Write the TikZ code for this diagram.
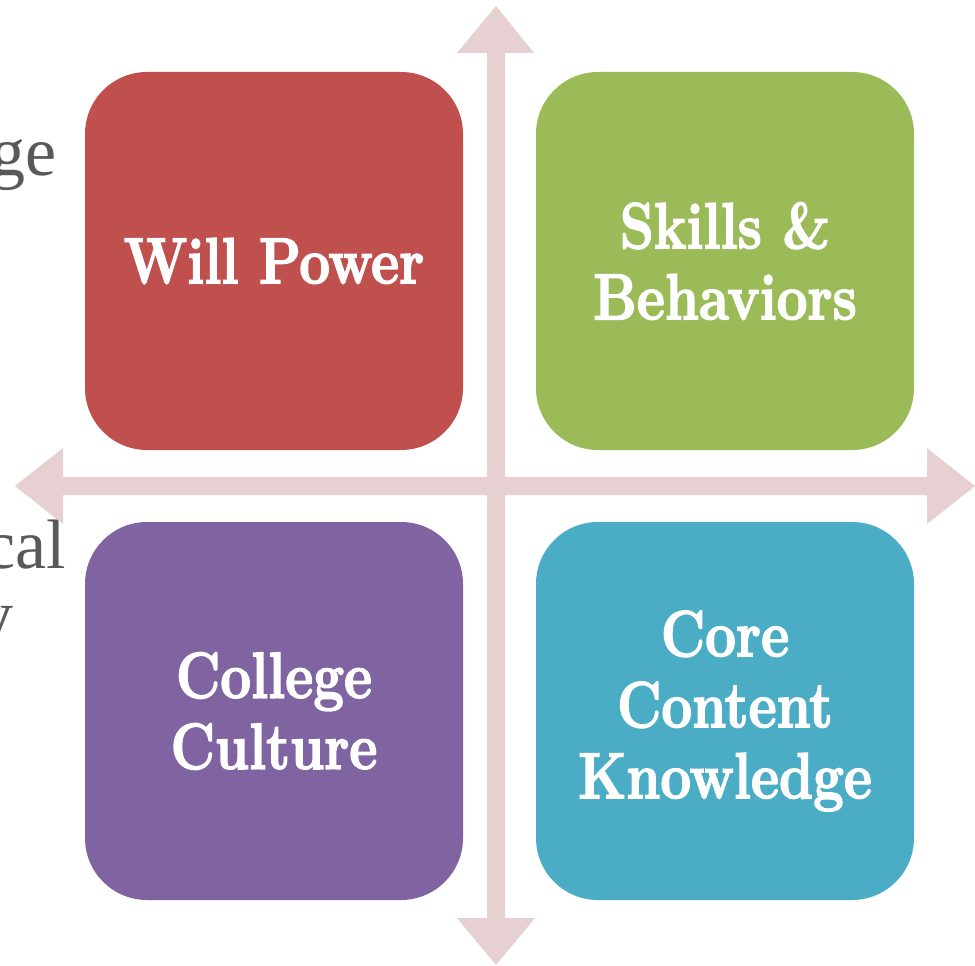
\documentclass[tikz,border=0pt]{standalone}
\usepackage{fontspec}
\usepackage{graphicx}
\newfontfamily\greyfont{Liberation Serif}
\newfontfamily\boxfont{Latin Modern Roman}[FakeBold=2.5]
\definecolor{cred}{HTML}{C0504D}
\definecolor{cgreen}{HTML}{9BBB59}
\definecolor{cpurple}{HTML}{8064A2}
\definecolor{cteal}{HTML}{4BACC6}
\definecolor{carrow}{HTML}{E7D0D1}
\definecolor{cgrey}{HTML}{595959}
\newcommand{\cond}[1]{\scalebox{0.84}[1]{\boxfont\fontsize{65}{71}\selectfont\bfseries #1}}
\tikzset{
  quad/.style={rounded corners=62pt, minimum width=378pt, minimum height=378pt, inner sep=0pt,
    text=white, align=center, font=\boxfont\fontsize{65}{71}\selectfont\bfseries},
  bgtext/.style={text=cgrey, inner sep=0pt, font=\greyfont\fontsize{70}{80}\selectfont},
  axis/.style={fill=carrow, draw=none}
}
\begin{document}
\begin{tikzpicture}[x=1pt,y=-1pt]
\useasboundingbox (0,0) rectangle (975,966);
\clip (0,0) rectangle (975,966);
% background text fragments
\node[bgtext, anchor=base east] (t1) at (57,175) {ge};
\node[bgtext, anchor=base east] (t2) at (66,568) {cal};
\node[bgtext, anchor=base east] (t3) at (14,638) {y};
% axes
\fill[axis] (63,477) -- (927,477) -- (927,448) -- (975,486) -- (927,524) -- (927,495)
  -- (63,495) -- (63,524) -- (15,486) -- (63,448) -- cycle;
\fill[axis] (487,53) -- (487,918) -- (457,918) -- (496,965) -- (535,918) -- (505,918)
  -- (505,53) -- (534,53) -- (496,6) -- (457,53) -- cycle;
% quadrants
\node[quad, fill=cred] (wp) at (274,261) {\cond{Will Power}};
\node[quad, fill=cgreen] (sb) at (725,261) {\cond{Skills \&}\\\cond{Behaviors}};
\node[quad, fill=cpurple] (cc) at (274,711) {\cond{College}\\\cond{Culture}};
\node[quad, fill=cteal] (ck) at (725,711) {\cond{Core}\\\cond{Content}\\\cond{Knowledge}};
\end{tikzpicture}
\end{document}
